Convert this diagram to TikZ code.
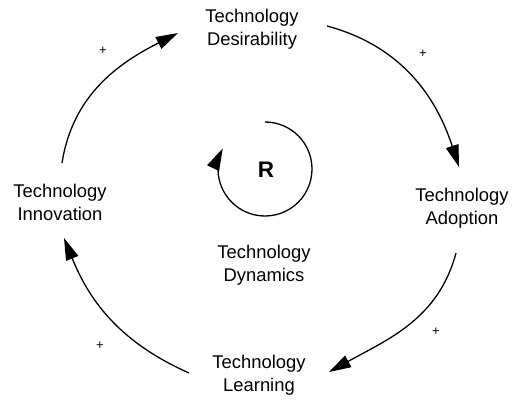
\documentclass[tikz,border=0pt]{standalone}
\usepackage{fontspec}
\setmainfont{Liberation Sans}
\usetikzlibrary{arrows.meta}
\begin{document}
\begin{tikzpicture}[x=1pt,y=1pt,
  lbl/.style={align=center,font=\fontsize{18.4}{23}\selectfont,inner sep=0pt},
  pol/.style={font=\fontsize{13}{13}\selectfont,inner sep=0pt},
  link/.style={line width=1.3pt,-{Triangle[length=22pt,width=13pt]}}]
\useasboundingbox (0,0) rectangle (512,400);
\node[lbl] (des) at (252,370.5) {Technology\\Desirability};
\node[lbl] (ado) at (462,191.5) {Technology\\Adoption};
\node[lbl] (lea) at (259,25) {Technology\\Learning};
\node[lbl] (inn) at (60,197.5) {Technology\\Innovation};
\node[lbl] (dyn) at (264,134.5) {Technology\\Dynamics};
\node[font=\fontsize{22.5}{22.5}\selectfont\bfseries] (r) at (266,230) {R};
\coordinate (a1s) at (327,374);
\coordinate (a1e) at (459,233);
\coordinate (a2s) at (456,147);
\coordinate (a2e) at (329,28);
\coordinate (a3s) at (189,27);
\coordinate (a3e) at (64,162);
\coordinate (a4s) at (62,237);
\coordinate (a4e) at (178,367);
\draw[link] (a1s) to[out=-15,in=108] (a1e);
\draw[link] (a2s) to[out=-105,in=29] (a2e);
\draw[link] (a3s) to[out=156,in=-68] (a3e);
\draw[link] (a4s) to[out=81,in=-153] (a4e);
\node[pol] (p1) at (423,346) {+};
\node[pol] (p2) at (436,68) {+};
\node[pol] (p3) at (100,54) {+};
\node[pol] (p4) at (103,349) {+};
\coordinate (rs) at (265,278);
\draw[link] (rs) arc[start angle=90,end angle=-206,radius=47];
\end{tikzpicture}
\end{document}
